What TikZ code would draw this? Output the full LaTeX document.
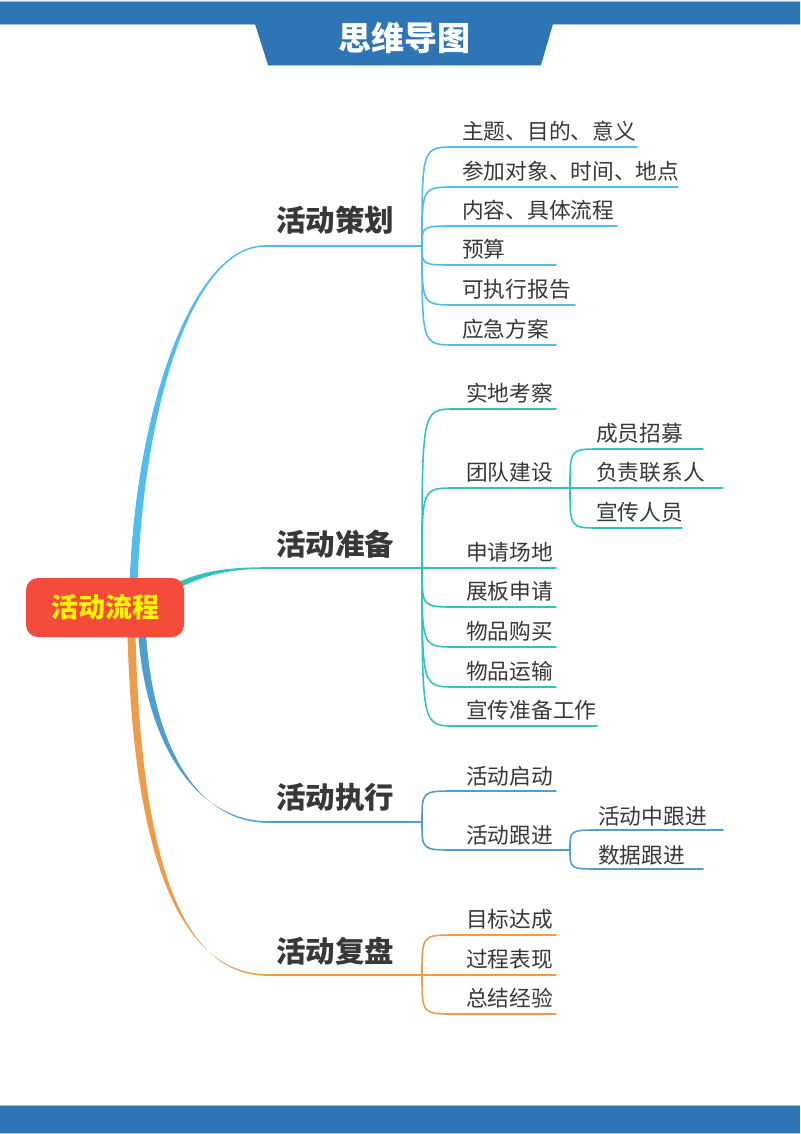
\documentclass[tikz,border=0pt]{standalone}
\usepackage{fontspec}
\setmainfont{Noto Sans CJK SC}
\usepackage{xcolor}
\usetikzlibrary{calc, backgrounds}

\definecolor{bandblue}{HTML}{2E75B6}
\definecolor{bandline}{HTML}{9DC3E6}
\definecolor{rootred}{HTML}{F54B3B}
\definecolor{rootyellow}{HTML}{FFF500}
\definecolor{planblue}{HTML}{52BCEF}
\definecolor{prepteal}{HTML}{33C3BF}
\definecolor{execblue}{HTML}{4E9ECF}
\definecolor{revorange}{HTML}{EE9B4C}
\definecolor{txtgray}{HTML}{383838}

\begin{document}
\begin{tikzpicture}[x=1pt,y=-1pt,
		mainlbl/.style={font=\fontsize{29.5}{31}\selectfont\bfseries, text=txtgray, inner sep=0pt},
		sublbl/.style={font=\fontsize{21.7}{23}\selectfont, text=txtgray, anchor=west, inner sep=0pt},
		branch/.style={line width=1.6pt, line cap=round}]
			\useasboundingbox (0,0) rectangle (800,1134);
			
			% HEADER BAND
			\fill[bandblue] (0,1) -- (800,1) -- (800,24) -- (553,24) -- (541,65) -- (268,65) -- (255,24) -- (0,24) -- cycle;
			\draw[bandline, line width=0.8pt] (0,1) -- (800,1);
			\draw[bandline, line width=0.8pt] (0,24.5) -- (255,24.5);
			\draw[bandline, line width=0.8pt] (553,24.5) -- (800,24.5);
			\draw[bandline, line width=0.8pt] (268,65.5) -- (541,65.5);
			\node[font=\fontsize{33}{35}\selectfont\bfseries, text=white] (title) at (404,38) {思维导图};
			
			% FOOTER BAND
			\fill[bandblue] (0,1105) rectangle (800,1133);
			\draw[bandline, line width=0.8pt] (0,1105) -- (800,1105);
			\draw[bandline, line width=0.8pt] (0,1133.5) -- (800,1133.5);
			
			% ROOT
			\node[fill=rootred, rounded corners=12pt, minimum width=158pt, minimum height=59pt, inner sep=0pt,
			font=\fontsize{27}{29}\selectfont\bfseries, text=rootyellow] (root) at (105,607.5) {活动流程};
			
			% MAIN LABELS
			\node[mainlbl] (plan) at (335,220) {活动策划};
			\node[mainlbl] (prep) at (335,544) {活动准备};
			\node[mainlbl] (exec) at (335,797) {活动执行};
			\node[mainlbl] (rev) at (335,951) {活动复盘};
			
			\coordinate (plan-l) at (265,246);
			\coordinate (plan-r) at (422,246);
			\coordinate (prep-l) at (268,568);
			\coordinate (prep-r) at (422,568);
			\coordinate (exec-l) at (268,822);
			\coordinate (exec-r) at (422,822);
			\coordinate (rev-l) at (268,975);
			\coordinate (rev-r) at (422,975);
			
			\begin{scope}[on background layer]
			% MAIN BRANCHES (tapered)
			\fill[planblue] ($(root)+(24,0)$) .. controls (131,420) and (190,245.2) .. ($(plan-l)+(0,-0.8)$) -- ($(plan-l)+(0,0.8)$) .. controls (190,246.8) and (139,420) .. ($(root)+(32,0)$) -- cycle;
			\fill[prepteal] ($(root)+(45,-11)$) .. controls (190,573.5) and (215,567.2) .. ($(prep-l)+(0,-0.8)$) -- ($(prep-l)+(0,0.8)$) .. controls (215,568.8) and (190,580.5) .. ($(root)+(45,-4)$) -- cycle;
			\fill[execblue] ($(root)+(32,0)$) .. controls (139,740) and (195,821.2) .. ($(exec-l)+(0,-0.8)$) -- ($(exec-l)+(0,0.8)$) .. controls (195,822.8) and (147,740) .. ($(root)+(40,0)$) -- cycle;
			\fill[revorange] ($(root)+(22,0)$) .. controls (130,870) and (185,974.2) .. ($(rev-l)+(0,-0.8)$) -- ($(rev-l)+(0,0.8)$) .. controls (185,975.8) and (138,870) .. ($(root)+(30,0)$) -- cycle;
			\end{scope}
			
			\draw[branch, planblue] (plan-l) -- (plan-r);
			\draw[branch, prepteal] (prep-l) -- (prep-r);
			\draw[branch, execblue] (exec-l) -- (exec-r);
			\draw[branch, revorange] (rev-l) -- (rev-r);
			
			% ACTIVITY PLANNING
			\foreach \ly/\ex/\txt [count=\i] in {147/637/主题、目的、意义, 187/678/参加对象、时间、地点, 226/617/内容、具体流程, 265/556/预算, 305/575/可执行报告, 345/556/应急方案}{
				\node[sublbl] (plan-\i) at (462,\ly-16) {\txt};
				\draw[branch, planblue] (plan-r) .. controls (422,\ly) .. (455,\ly) -- (\ex,\ly);
			}
			
			% ACTIVITY PREPARATION
			\foreach \ly/\ex/\txt [count=\i] in {409/556/实地考察, 488/570/团队建设, 568/556/申请场地, 607/556/展板申请, 647/556/物品购买, 687/556/物品运输, 726/597/宣传准备工作}{
				\node[sublbl] (prep-\i) at (466,\ly-16) {\txt};
				\draw[branch, prepteal] (prep-r) .. controls (422,\ly) .. (455,\ly) -- (\ex,\ly);
			}
			\coordinate (team-r) at (570,488);
			\foreach \ly/\ex/\txt [count=\i] in {449/703/成员招募, 488/723/负责联系人, 528/682/宣传人员}{
				\node[sublbl] (team-\i) at (596,\ly-16) {\txt};
				\draw[branch, prepteal] (team-r) .. controls (570,\ly) .. (600,\ly) -- (\ex,\ly);
			}
			
			% ACTIVITY EXECUTION
			\foreach \ly/\ex/\txt [count=\i] in {791/556/活动启动, 850/570/活动跟进}{
				\node[sublbl] (exec-\i) at (466,\ly-15) {\txt};
				\draw[branch, execblue] (exec-r) .. controls (422,\ly) .. (455,\ly) -- (\ex,\ly);
			}
			\coordinate (follow-r) at (570,850);
			\foreach \ly/\ex/\txt [count=\i] in {830/723/活动中跟进, 869/703/数据跟进}{
				\node[sublbl] (follow-\i) at (598,\ly-14) {\txt};
				\draw[branch, execblue] (follow-r) .. controls (570,\ly) .. (600,\ly) -- (\ex,\ly);
			}
			
			% ACTIVITY REVIEW
			\foreach \ly/\ex/\txt [count=\i] in {935/556/目标达成, 975/556/过程表现, 1014/556/总结经验}{
				\node[sublbl] (rev-\i) at (466,\ly-16) {\txt};
				\draw[branch, revorange] (rev-r) .. controls (422,\ly) .. (455,\ly) -- (\ex,\ly);
			}
		\end{tikzpicture}
\end{document}
